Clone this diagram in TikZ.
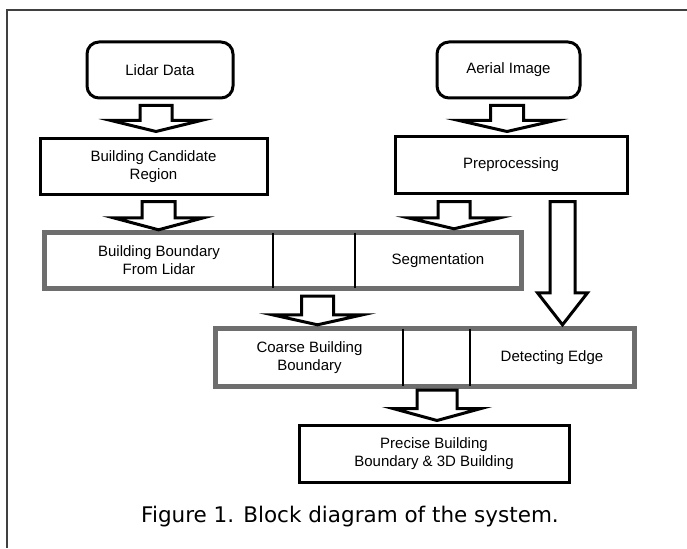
\documentclass[tikz,border=0pt]{standalone}
\usepackage{fontspec}
\setmainfont{Liberation Sans}
\newfontfamily\capfont{DejaVu Sans}
\usetikzlibrary{calc,fit}
\definecolor{framegray}{RGB}{110,110,110}
\newcommand{\hollowarrow}[5]{\draw [hollow] let \p1=(#1), \p2=(#2) in (\x1-#3pt,\y1) -- (\x1+#3pt,\y1) -- (\x1+#3pt,\y2+#5pt) -- (\x1+#4pt,\y2+#5pt) -- (\x1,\y2) -- (\x1-#4pt,\y2+#5pt) -- (\x1-#3pt,\y2+#5pt) -- cycle;}

\begin{document}
\begin{tikzpicture}[x=1pt,y=-1pt,
  box/.style={draw,line width=3pt,align=center,inner sep=0pt,font=\fontsize{15}{18}\selectfont},
  roundbox/.style={box,rounded corners=12pt},
  cell/.style={inner sep=0pt,align=center,font=\fontsize{15}{18}\selectfont},
  outer/.style={draw=framegray,line width=5pt,inner sep=0pt},
  divider/.style={line width=2.5pt},
  hollow/.style={draw,fill=white,line width=3pt,line join=miter},
  caption/.style={font=\capfont\fontsize{21.5}{24}\selectfont}]
\useasboundingbox (0,0) rectangle (687,548);
\draw [line width=1.5pt,black!75] (687,10) -| (7,548);

\node [roundbox,minimum width=146,minimum height=56] (lidar) at (160,70) {Lidar Data};
\node [roundbox,minimum width=143,minimum height=56] (aerial) at (508.5,70) {Aerial Image};
\node [box,minimum width=227,minimum height=55] (cand) at (153.5,166.5) {Building Candidate\\Region};
\node [box,minimum width=232,minimum height=56] (pre) at (511,165) {Preprocessing};

\node [cell,minimum width=228,minimum height=55] (bbl) at (159,260.5) {Building Boundary\\From Lidar};
\node [cell,minimum width=82,minimum height=55] (gap1) at (314,260.5) {};
\node [cell,minimum width=166,minimum height=55] (seg) at (438,260.5) {Segmentation};
\node [outer,fit=(bbl) (seg)] (comp1) {};
\draw [divider] (bbl.north east) -- (bbl.south east); \draw [divider] (seg.north west) -- (seg.south west);

\node [cell,minimum width=187,minimum height=57] (cbb) at (309.5,357.5) {Coarse Building\\Boundary};
\node [cell,minimum width=67,minimum height=57] (gap2) at (436.5,357.5) {};
\node [cell,minimum width=164,minimum height=57] (edge) at (552,357.5) {Detecting Edge};
\node [outer,fit=(cbb) (edge)] (comp2) {};
\draw [divider] (cbb.north east) -- (cbb.south east); \draw [divider] (edge.north west) -- (edge.south west);

\node [box,minimum width=270,minimum height=57] (precise) at (434,453.5) {Precise Building\\Boundary \& 3D Building};

\hollowarrow{$(lidar.south)+(-4,6)$}{$(cand.north)+(0,-6)$}{16}{45}{11}
\hollowarrow{$(cand.south)+(5,6)$}{$(bbl.north)+(0,-3)$}{16.5}{45}{12}
\hollowarrow{$(aerial.south)+(-1.5,6)$}{$(pre.north)+(0,-4)$}{16.5}{48}{11}
\hollowarrow{$(pre.south)+(-57,7)$}{$(seg.north)+(0,-4)$}{16}{46}{11}
\hollowarrow{$(pre.south)+(51.5,7)$}{$(edge.north)+(0,-4)$}{12.5}{25}{32}
\hollowarrow{$(gap1.south)+(3.5,8)$}{$(cbb.north)+(0,-4)$}{16}{45}{10}
\hollowarrow{$(gap2.south)+(0.5,4)$}{$(precise.north)+(0,-3)$}{20}{44}{12}

\node [caption,anchor=base] (cap) at (350,522) {Figure 1. Block diagram of the system.};
\end{tikzpicture}
\end{document}
